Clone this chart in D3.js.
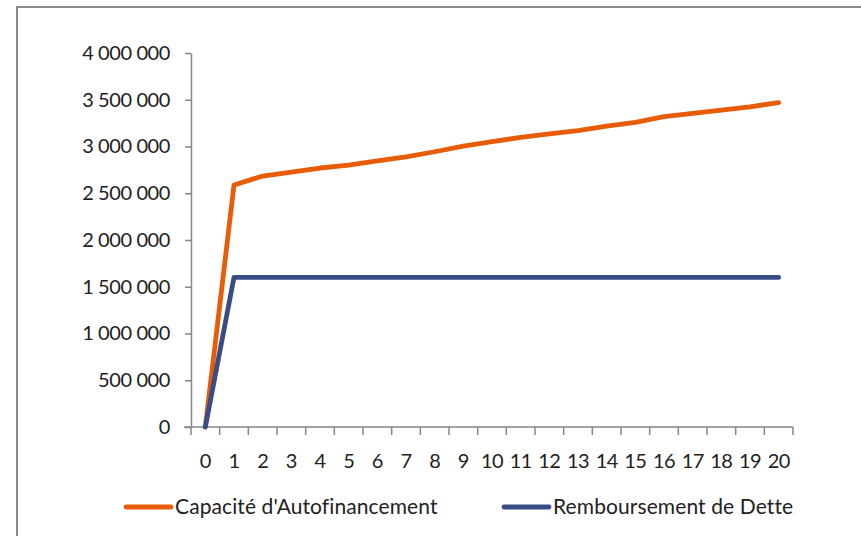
<!DOCTYPE html>
<html>
<head>
<meta charset="utf-8">
<script src="https://cdn.jsdelivr.net/npm/d3@7"></script>
<style>
  html, body { margin: 0; padding: 0; background: #fff; }
  svg { display: block; }
  text { font-family: Lato, "Open Sans", sans-serif; fill: #222; }
</style>
</head>
<body>
<svg id="chart" width="861" height="536"></svg>
<script>
// Années du plan de financement
const years = d3.range(0, 21);

// Capacité d'Autofinancement (CAF) par année
const caf = [0, 2588000, 2684000, 2727000, 2770000, 2802000, 2845000, 2888000,
  2944000, 3005000, 3051000, 3098000, 3134000, 3169000, 3219000, 3259000,
  3319000, 3355000, 3390000, 3425000, 3470000];

// Remboursement annuel de la dette
const remboursement = [0, 1600000, 1600000, 1600000, 1600000, 1600000, 1600000,
  1600000, 1600000, 1600000, 1600000, 1600000, 1600000, 1600000, 1600000,
  1600000, 1600000, 1600000, 1600000, 1600000, 1600000];

const yTicks = [0, 500000, 1000000, 1500000, 2000000, 2500000, 3000000, 3500000, 4000000];

const seriesNames = ["Capacité d'Autofinancement", "Remboursement de Dette"];
const seriesColors = ["#E85C08", "#3A4C86"];

const svg = d3.select("#chart");

// cadre du graphique
svg.append("rect")
  .attr("x", 17).attr("y", 7)
  .attr("width", 900).attr("height", 600)
  .attr("fill", "none")
  .attr("stroke", "#8a8a8a")
  .attr("stroke-width", 2);

const plot = { left: 191, right: 793, top: 53, bottom: 427 };

const x = d3.scaleBand().domain(years).range([plot.left, plot.right]);
const y = d3.scaleLinear().domain([0, 4000000]).range([plot.bottom, plot.top]);

const fmt = v => d3.format(",")(v).replace(/,/g, " ");

// axe vertical
const yAxis = svg.append("g")
  .attr("transform", `translate(${plot.left},0)`)
  .call(d3.axisLeft(y).tickValues(yTicks).tickFormat(fmt).tickSizeInner(6).tickSizeOuter(0).tickPadding(15));
yAxis.select(".domain").attr("stroke", "#868686").attr("stroke-width", 1.5);
yAxis.selectAll(".tick line").attr("stroke", "#868686").attr("stroke-width", 1.5);
yAxis.selectAll(".tick text").attr("font-size", 20).attr("fill", "#222")
  .attr("letter-spacing", -0.4)
  .style("font-family", "Lato, 'Open Sans', sans-serif");

// axe horizontal (graduations entre les catégories)
const xg = svg.append("g").attr("transform", `translate(0,${plot.bottom})`);
xg.append("line")
  .attr("x1", plot.left - 7).attr("x2", plot.right)
  .attr("stroke", "#868686").attr("stroke-width", 1.5);
const boundaries = years.map(d => x(d)).concat([x(years[years.length - 1]) + x.bandwidth()]);
xg.selectAll("line.tk").data(boundaries).enter().append("line")
  .attr("class", "tk")
  .attr("x1", d => d).attr("x2", d => d)
  .attr("y1", 0).attr("y2", 8)
  .attr("stroke", "#868686").attr("stroke-width", 1.5);
xg.selectAll("text").data(years).enter().append("text")
  .attr("x", d => x(d) + x.bandwidth() / 2)
  .attr("y", 41)
  .attr("text-anchor", "middle")
  .attr("font-size", 20)
  .attr("letter-spacing", -0.6)
  .text(d => d);

// courbes
const line = d3.line()
  .x((d, i) => x(years[i]) + x.bandwidth() / 2)
  .y(d => y(d));

[caf, remboursement].forEach((data, k) => {
  svg.append("path")
    .datum(data)
    .attr("fill", "none")
    .attr("stroke", seriesColors[k])
    .attr("stroke-width", 4.8)
    .attr("stroke-linejoin", "round")
    .attr("stroke-linecap", "round")
    .attr("d", line);
});

// légende
const legendItems = [
  { x0: 126, name: seriesNames[0], color: seriesColors[0] },
  { x0: 504, name: seriesNames[1], color: seriesColors[1] }
];
legendItems.forEach(it => {
  svg.append("line")
    .attr("x1", it.x0).attr("x2", it.x0 + 45)
    .attr("y1", 507).attr("y2", 507)
    .attr("stroke", it.color).attr("stroke-width", 4.8)
    .attr("stroke-linecap", "round");
  svg.append("text")
    .attr("x", it.x0 + 49).attr("y", 514)
    .attr("font-size", 21)
    .attr("letter-spacing", 0.1)
    .text(it.name);
});
</script>
</body>
</html>
